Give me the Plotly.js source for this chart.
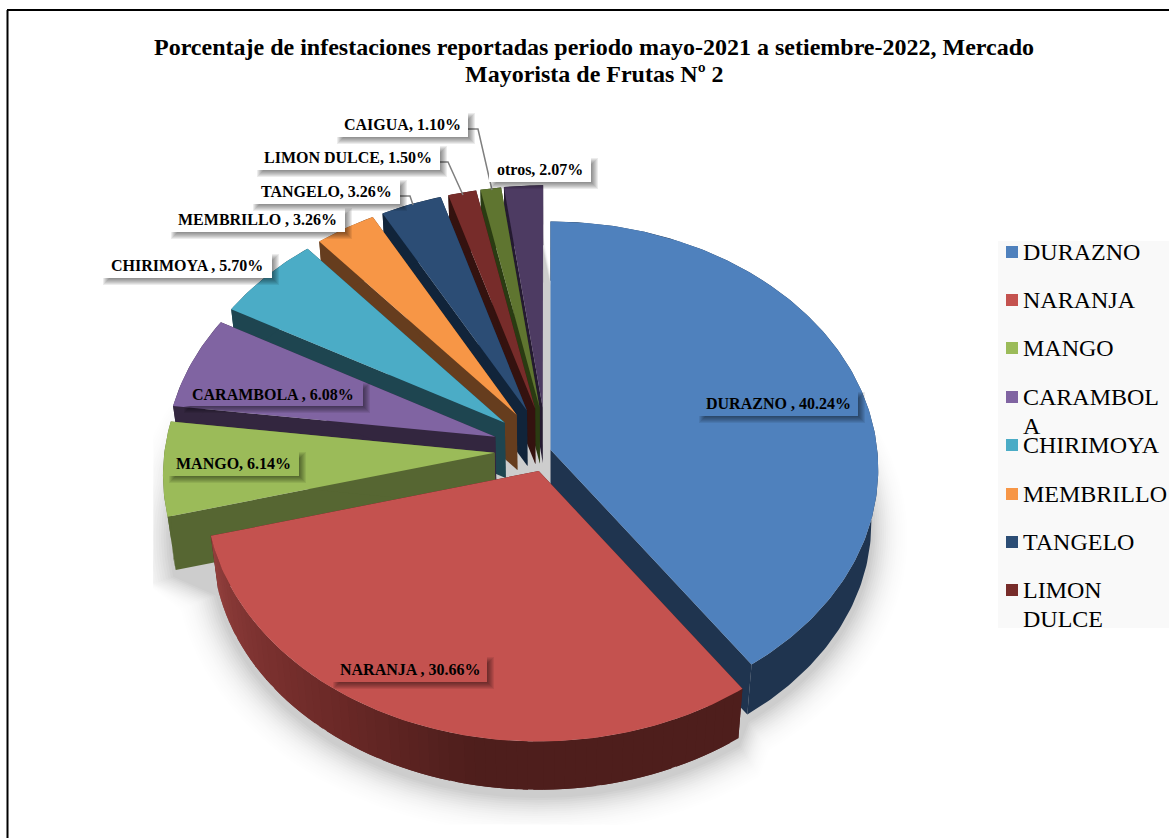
<!DOCTYPE html>
<html>
<head>
<meta charset="utf-8">
<script src="https://cdn.plot.ly/plotly-3.0.1.min.js"></script>
<style>html,body{margin:0;padding:0;background:#fff;overflow:hidden}#chart{width:1169px;height:838px}</style>
</head>
<body>
<div id="chart"></div>
<script>
// Share of reported infestations by fruit
const categories = ["DURAZNO", "NARANJA", "MANGO", "CARAMBOLA", "CHIRIMOYA", "MEMBRILLO", "TANGELO", "LIMON DULCE", "CAIGUA", "otros"];
const shares = [40.24, 30.66, 6.14, 6.08, 5.70, 3.26, 3.26, 1.50, 1.10, 2.07];
const labelTexts = ["DURAZNO , 40.24%", "NARANJA , 30.66%", "MANGO, 6.14%", "CARAMBOLA , 6.08%", "CHIRIMOYA , 5.70%", "MEMBRILLO , 3.26%", "TANGELO, 3.26%", "LIMON DULCE, 1.50%", "CAIGUA, 1.10%", "otros, 2.07%"];
const legendLines = [["DURAZNO"], ["NARANJA"], ["MANGO"], ["CARAMBOL", "A"], ["CHIRIMOYA"], ["MEMBRILLO"], ["TANGELO"], ["LIMON", "DULCE"]];
const titleLines = ["Porcentaje de infestaciones reportadas periodo mayo-2021 a setiembre-2022, Mercado", "Mayorista de Frutas Nº 2"];

// Slice styling
const topColors = ["#4f81bd", "#c4524f", "#9bbb59", "#8064a2", "#4bacc6", "#f79646", "#2c4d75", "#772c2a", "#5f7530", "#4d3b62"];
const wallColors = ["#1f344f", "#4e1e1c", "#566632", "#33263f", "#1e4550", "#663d1e", "#11243a", "#34120f", "#2a3b12", "#241a30"];
const pulls = [0.005, 0.09, 0.165, 0.172, 0.175, 0.175, 0.175, 0.175, 0.175, 0.175];
const widthScale = [0.99, 1, 1, 1, 1, 1, 1, 1, 1, 1];
const sideShift = [0, 0, 0, 0, 0, 0, 0, 0, 0, -0.008];
const drawOrder = [9, 8, 7, 6, 5, 4, 3, 2, 0, 1];

// Projection of the tilted disc
const view = {cx: 549, cy: 450, a: 330, b: 246, k: 0.078, depth: 54.5, shrink: 0.979};
const project = (u, v) => {
  const w = 1 - view.k * v;
  return [view.cx + view.a * u / w, view.cy + view.b * v / w];
};
const lower = p => [view.cx + (p[0] - view.cx) * view.shrink, view.cy + (p[1] - view.cy) * view.shrink + view.depth];

// Build the outline of every slice from the cumulative shares
const total = shares.reduce((s, v) => s + v, 0);
let running = 0;
const slices = shares.map((value, i) => {
  const start = running / total * 2 * Math.PI;
  running += value;
  const end = running / total * 2 * Math.PI;
  const mid = (start + end) / 2;
  const pu = pulls[i] * Math.sin(mid) + sideShift[i], pv = -pulls[i] * Math.cos(mid);
  const steps = Math.max(3, Math.ceil((end - start) / 0.015));
  const arc = [];
  for (let s = 0; s <= steps; s++) {
    const t = start + (end - start) * s / steps;
    arc.push(project(pu + widthScale[i] * Math.sin(t), pv - Math.cos(t)));
  }
  return {apex: project(pu, pv), arc};
});

const polyTrace = (points, color, name) => ({
  type: "scatter", mode: "lines", x: points.map(p => p[0]), y: points.map(p => p[1]),
  fill: "toself", fillcolor: color, line: {width: 0, color: color}, hoverinfo: "skip", showlegend: false, name: name || ""
});
const wallQuad = (p, q, color, name) => polyTrace([p, q, lower(q), lower(p), p], color, name);

const traces = [];

// Soft ground shadow: stacked rim copies, each inner layer a little stronger
const shadowClip = {left: 153, bottom: 825};
const rim = slices.flatMap(sl => sl.arc.map(lower));
const shadowLayer = (d, alpha) => {
  const grow = 1 + d / 300;
  const pts = rim.map(p => [
    Math.max(shadowClip.left, view.cx + (p[0] - view.cx) * grow),
    Math.min(shadowClip.bottom, view.cy + 6 + (p[1] - view.cy) * grow)
  ]);
  pts.push(pts[0]);
  traces.push(polyTrace(pts, "rgba(0,0,0," + alpha.toFixed(4) + ")", "sombra"));
};
for (let d = 34; d >= 2; d -= 2) shadowLayer(d, 0.003 + 0.022 * Math.pow((34 - d) / 32, 1.5));

// Dark-to-lighter ramp along the rim of the front slice
const rimStops = [[0.0, [78, 30, 28]], [0.42, [78, 30, 28]], [0.62, [105, 40, 38]], [0.85, [128, 52, 50]], [1.0, [146, 64, 61]]];
const rimColor = t => {
  for (let i = 1; i < rimStops.length; i++) {
    if (t <= rimStops[i][0]) {
      const [t0, c0] = rimStops[i - 1], [t1, c1] = rimStops[i];
      const f = (t - t0) / (t1 - t0);
      return "rgb(" + c0.map((c, j) => Math.round(c + (c1[j] - c) * f)).join(",") + ")";
    }
  }
  return "rgb(146,64,61)";
};

drawOrder.forEach(i => {
  const sl = slices[i];
  const n = sl.arc.length - 1;
  const name = categories[i];
  traces.push(wallQuad(sl.apex, sl.arc[0], wallColors[i], name));
  traces.push(wallQuad(sl.apex, sl.arc[n], wallColors[i], name));
  if (i === 1) {
    const bands = 60;
    for (let b = 0; b < bands; b++) {
      const from = Math.floor(n * b / bands), to = Math.min(n, Math.ceil(n * (b + 1) / bands) + 1);
      const seg = sl.arc.slice(from, to + 1);
      traces.push(polyTrace([...seg, ...seg.slice().reverse().map(lower), seg[0]], rimColor((b + 0.5) / bands), name));
    }
  } else {
    traces.push(polyTrace([...sl.arc, ...sl.arc.slice().reverse().map(lower), sl.arc[0]], wallColors[i], name));
  }
  traces.push(polyTrace([sl.apex, ...sl.arc, sl.apex], topColors[i], name));
});

// Label boxes: [left, top, right, bottom, fill]
const labelBoxes = [
  [698, 391, 858, 416, "#4f81bd"], [332, 656, 487, 682, "#c4524f"], [168, 451, 299, 476, "#9bbb59"],
  [183, 382, 363, 406, "#8064a2"], [102, 253, 272, 278, "#ffffff"], [170, 207, 345, 232, "#ffffff"],
  [252, 179, 400, 204, "#ffffff"], [256, 145, 440, 170, "#ffffff"], [336, 112, 468, 137, "#ffffff"], [489, 157, 591, 182, "#ffffff"]
];

// Leader lines for the thin slices at the top
const leaders = [
  [[398, 196], [410, 196], [413, 205]],
  [[437, 162], [448, 162], [463, 195]],
  [[468, 129], [478, 129], [492, 190]]
];
leaders.forEach(l => traces.push({type: "scatter", mode: "lines", x: l.map(p => p[0]), y: l.map(p => p[1]),
  line: {color: "#7f7f7f", width: 1.5}, hoverinfo: "skip", showlegend: false}));

// Legend swatches
const legendRows = [252, 300, 348, 397, 445, 494, 542, 590];
const legendLineGap = 29;
const legendArea = [998, 241, 1169, 628];
traces.push({type: "scatter", mode: "markers", x: legendRows.map(() => 1012), y: legendRows,
  marker: {symbol: "square", size: 12, color: topColors.slice(0, legendRows.length), line: {width: 0}},
  hoverinfo: "skip", showlegend: false});

const serif = "'Liberation Serif', 'Times New Roman', serif";
const shapes = [];
const annotations = [];

// Frame around the figure
shapes.push({type: "line", layer: "above", x0: 7.5, x1: 7.5, y0: 10, y1: 838, line: {color: "#000", width: 2}});
shapes.push({type: "line", layer: "above", x0: 7, x1: 1169, y0: 10, y1: 10, line: {color: "#000", width: 2}});

// Legend panel sits under the marks
shapes.push({type: "rect", layer: "below", x0: legendArea[0], x1: legendArea[2], y0: legendArea[1], y1: legendArea[3],
  fillcolor: "#f9f9f9", line: {width: 0}});

labelBoxes.forEach((box, i) => {
  const [l, t, r, bt, fill] = box;
  for (let g = 3; g >= -3; g--) {
    shapes.push({type: "rect", layer: "above", x0: l + 4 - g, x1: r + 4 + g, y0: t + 4 - g, y1: bt + 4 + g,
      fillcolor: "rgba(0,0,0,0.075)", line: {width: 0}});
  }
  shapes.push({type: "rect", layer: "above", x0: l, x1: r, y0: t, y1: bt, fillcolor: fill, line: {width: 0}});
  annotations.push({xref: "x", yref: "y", x: (l + r) / 2, y: (t + bt) / 2, text: "<b>" + labelTexts[i] + "</b>", showarrow: false,
    font: {family: serif, size: 16, color: "#000"}, xanchor: "center", yanchor: "middle"});
});

legendLines.forEach((lines, i) => {
  lines.forEach((line, j) => {
    annotations.push({xref: "x", yref: "y", x: 1021, y: legendRows[i] + j * legendLineGap, text: line, showarrow: false,
      font: {family: serif, size: 24, color: "#000"}, xanchor: "left", yanchor: "middle"});
  });
});

// Second title line, set a little tighter than the default line height
annotations.push({xref: "x", yref: "y", x: 594, y: 74, text: "<b>" + titleLines[1] + "</b>", showarrow: false,
  font: {family: serif, size: 24, color: "#000"}, xanchor: "center", yanchor: "middle"});

const layout = {
  width: 1169, height: 838, margin: {l: 0, r: 0, t: 0, b: 0},
  paper_bgcolor: "#ffffff", plot_bgcolor: "#ffffff", showlegend: false, hovermode: false,
  title: {
    text: "<b>" + titleLines[0] + "</b>",
    font: {family: serif, size: 24, color: "#000"},
    x: 594 / 1169, xanchor: "center", y: 1 - 47 / 838, yanchor: "middle"
  },
  xaxis: {range: [0, 1169], visible: false, fixedrange: true},
  yaxis: {range: [838, 0], visible: false, fixedrange: true},
  shapes, annotations
};
Plotly.newPlot("chart", traces, layout, {displayModeBar: false, staticPlot: true});
</script>
</body>
</html>
